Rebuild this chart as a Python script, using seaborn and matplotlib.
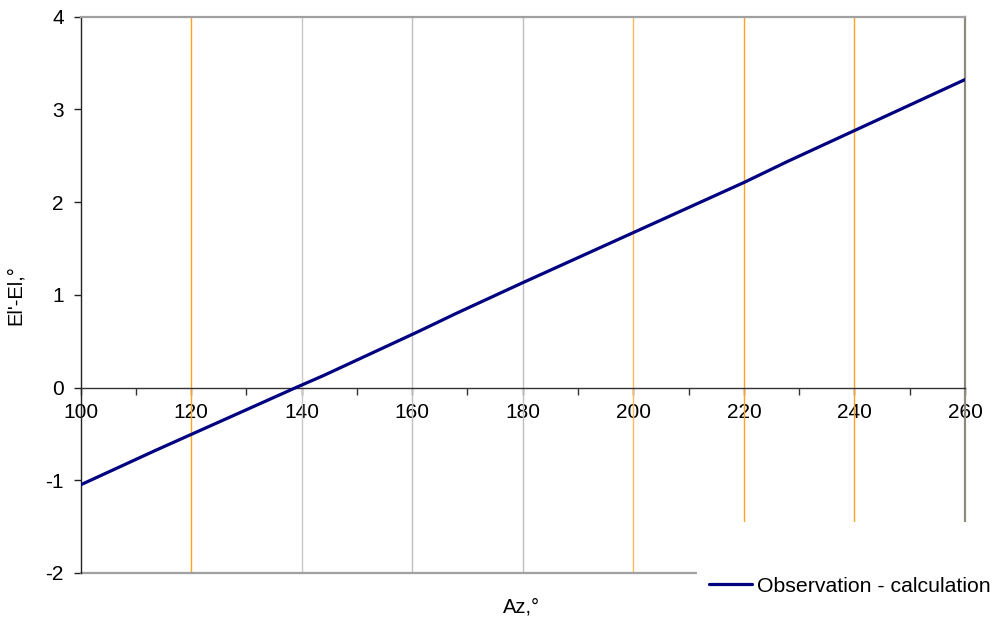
import matplotlib
matplotlib.use("Agg")
import matplotlib.pyplot as plt
from matplotlib.patches import Rectangle
import seaborn as sns
import pandas as pd

# Observed minus calculated elevation along azimuth
az = [100, 113.5, 139, 144, 161, 168, 180, 200, 220, 228, 240, 260]
d_el = [-1.05, -0.68, 0.0, 0.13, 0.60, 0.80, 1.13, 1.67, 2.21, 2.44, 2.77, 3.32]

x_ticks = [100, 120, 140, 160, 180, 200, 220, 240, 260]
y_ticks = [-2, -1, 0, 1, 2, 3, 4]

# vertical reference lines at azimuths
grid_az = [120, 140, 160, 180, 200, 220, 240]
grid_colors = ["#FFA320", "#C8C8C8", "#C0C0C0", "#C0C0C0", "#FFBB55", "#FFA320", "#FFA320"]

sns.set_style("white")
plt.rcParams["font.family"] = ["Liberation Sans", "DejaVu Sans"]
plt.rcParams["axes.unicode_minus"] = False

df = pd.DataFrame({"Az": az, "dEl": d_el})

fig = plt.figure(figsize=(9.97, 6.25), dpi=100)
ax = fig.add_axes([80.5 / 997, 52 / 625, (965 - 80.5) / 997, (573 - 16.5) / 625])

for g, c in zip(grid_az, grid_colors):
    ax.axvline(g, color=c, lw=1.0, zorder=1)

sns.lineplot(data=df, x="Az", y="dEl", ax=ax, color="#000080", lw=2.3,
             label="Observation - calculation", legend=False, zorder=3)

ax.set_xlim(100, 260)
ax.set_ylim(-2, 4)

# axes frame: x-axis crossing at zero, light border elsewhere
ax.spines["bottom"].set_position(("data", 0))
ax.spines["bottom"].set_color("#333333")
ax.spines["bottom"].set_linewidth(1.0)
ax.spines["left"].set_color("#222222")
ax.spines["left"].set_linewidth(1.0)
ax.spines["top"].set_color("#A0A0A0")
ax.spines["top"].set_linewidth(1.6)
ax.spines["right"].set_color("#8F8A7F")
ax.spines["right"].set_linewidth(1.6)
ax.axhline(-2, color="#A0A0A0", lw=1.6, zorder=2, clip_on=False)

ax.set_xticks(x_ticks)
ax.set_xticks(range(110, 260, 20), minor=True)
ax.set_yticks(y_ticks)
ax.tick_params(axis="x", which="both", direction="out", length=5, width=1,
               color="#333333", labelsize=15, pad=6, bottom=True, labelcolor="black")
ax.tick_params(axis="y", direction="out", length=5, width=1, color="#222222",
               labelsize=15, pad=7, left=True, labelcolor="black")

ax.set_xlabel("")
ax.set_ylabel("El'-El,°", fontsize=14.5, labelpad=15, color="black")
fig.text(522 / 997, 1 - 607 / 625, "Az,°", fontsize=14.5, ha="center",
         va="center", color="black")

# legend area in the lower right corner
fig.patches.append(Rectangle((697 / 997, 0), 1 - 697 / 997, 103 / 625,
                             transform=fig.transFigure, facecolor="white",
                             edgecolor="none", zorder=5))
handles, labels = ax.get_legend_handles_labels()
leg = fig.legend(handles, labels, loc="center left",
                 bbox_to_anchor=(709 / 997, 1 - 586 / 625), frameon=False,
                 fontsize=15.3, handlelength=2.0, handletextpad=0.25,
                 borderpad=0, borderaxespad=0, labelcolor="black")
leg.set_zorder(6)

fig.savefig("out.png", dpi=100)
